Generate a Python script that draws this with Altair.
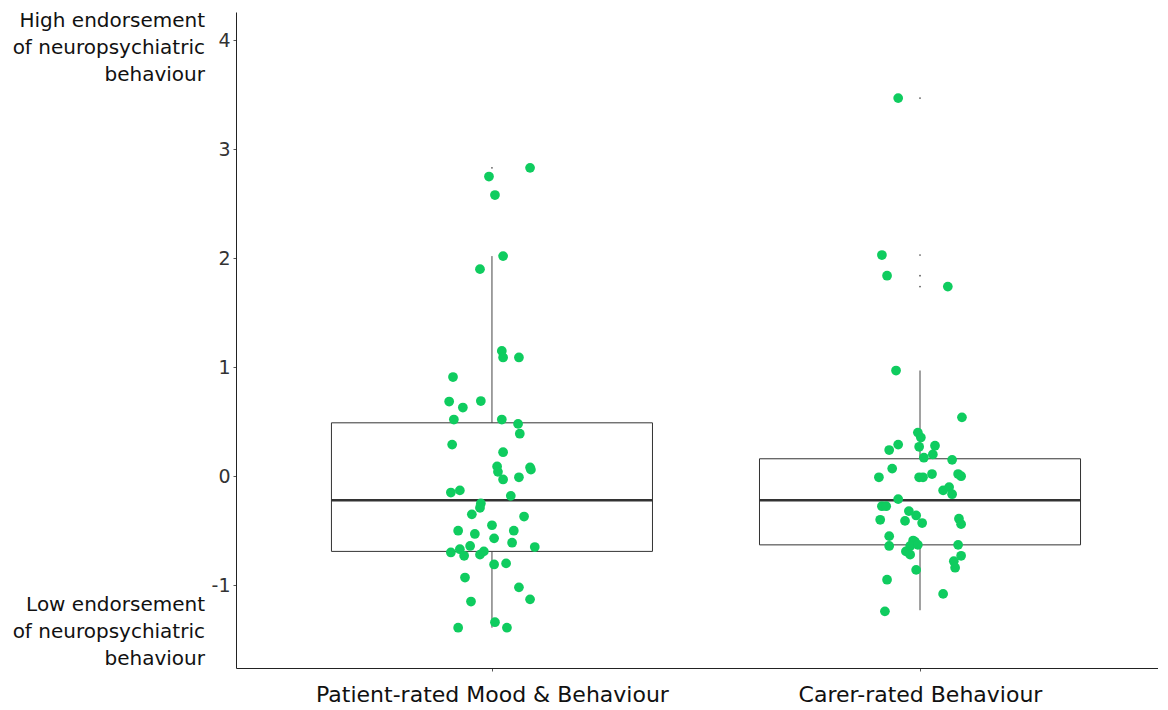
import altair as alt
import pandas as pd

# ---- data ----
groups = ["Patient-rated Mood & Behaviour", "Carer-rated Behaviour"]
group_pos = [1, 2]

patient_values = [2.83, 2.75, 2.58, 2.02, 1.90, 1.15, 1.09, 1.09, 0.91, 0.685, 0.69, 0.63,
                  0.52, 0.52, 0.48, 0.39, 0.29, 0.22, 0.09, 0.04, -0.03, -0.01, 0.08, 0.06,
                  -0.13, -0.15, -0.18, -0.25, -0.29, -0.35, -0.37, -0.45, -0.50, -0.53, -0.50,
                  -0.57, -0.61, -0.65, -0.70, -0.67, -0.73, -0.64, -0.72, -0.69, -0.81, -0.80,
                  -0.93, -1.02, -1.13, -1.15, -1.34, -1.39, -1.39]
patient_jitter = [0.089, -0.007, 0.007, 0.026, -0.028, 0.023, 0.026, 0.063, -0.091, -0.100, -0.026, -0.068,
                  -0.089, 0.023, 0.061, 0.065, -0.093, 0.026, 0.012, 0.014, 0.026, 0.063, 0.089, 0.091,
                  -0.075, -0.096, 0.044, -0.026, -0.028, -0.047, 0.075, 0.0, -0.079, -0.040, 0.051,
                  0.005, 0.047, 0.100, -0.096, -0.075, -0.065, -0.051, -0.028, -0.019, 0.005, 0.033,
                  -0.063, 0.063, 0.089, -0.049, 0.007, -0.079, 0.035]

carer_values = [3.47, 2.03, 1.84, 1.74, 0.97, 0.54, 0.40, 0.355, 0.29, 0.24, 0.27, 0.28,
                0.20, 0.17, 0.15, 0.07, -0.01, -0.01, -0.01, 0.02, 0.02, 0.00, -0.13, -0.10,
                -0.165, -0.21, -0.275, -0.275, -0.32, -0.36, -0.40, -0.41, -0.43, -0.39, -0.44,
                -0.55, -0.64, -0.59, -0.60, -0.64, -0.63, -0.69, -0.72, -0.63, -0.73, -0.78,
                -0.84, -0.86, -0.95, -1.08, -1.24]
carer_jitter = [-0.051, -0.089, -0.077, 0.065, -0.056, 0.098, -0.005, 0.002, -0.051, -0.072, -0.002, 0.035,
                0.030, 0.009, 0.075, -0.065, -0.096, -0.002, 0.007, 0.028, 0.089, 0.096, 0.054, 0.068,
                0.075, -0.051, -0.089, -0.079, -0.026, -0.009, -0.093, -0.035, 0.005, 0.091, 0.096,
                -0.072, -0.072, -0.016, -0.012, -0.023, -0.005, -0.033, -0.023, 0.089, 0.096, 0.079,
                0.082, -0.009, -0.077, 0.054, -0.082]

# box-plot summary
q1 = [-0.69, -0.63]
median = [-0.22, -0.22]
q3 = [0.49, 0.16]
whisker_lo = [-1.39, -1.23]
whisker_hi = [2.02, 0.97]
patient_outliers = [2.58, 2.75, 2.83]
carer_outliers = [1.74, 1.84, 2.03, 3.47]

box_half_width = 0.375

# ---- tables ----
pts = pd.DataFrame({
    "x": [group_pos[0] + j for j in patient_jitter] + [group_pos[1] + j for j in carer_jitter],
    "value": patient_values + carer_values,
    "group": [groups[0]] * len(patient_values) + [groups[1]] * len(carer_values),
})
box = pd.DataFrame({
    "pos": group_pos,
    "left": [p - box_half_width for p in group_pos],
    "right": [p + box_half_width for p in group_pos],
    "q1": q1, "median": median, "q3": q3, "lo": whisker_lo, "hi": whisker_hi,
})
outl = pd.DataFrame({
    "pos": [group_pos[0]] * len(patient_outliers) + [group_pos[1]] * len(carer_outliers),
    "value": patient_outliers + carer_outliers,
})

FONT = "DejaVu Sans"
xscale = alt.Scale(domain=[0.402, 2.556], nice=False, zero=False)
yscale = alt.Scale(domain=[-1.76, 4.26], nice=False, zero=False)

label_expr = "datum.value == 1 ? '%s' : (datum.value == 2 ? '%s' : '')" % (groups[0], groups[1])

xax = alt.Axis(values=group_pos, labelExpr=label_expr, title=None, grid=False,
               labelFontSize=22, labelColor="#111111", labelFont=FONT,
               labelBaseline="alphabetic", labelPadding=30,
               labelLimit=0, tickSize=3, tickColor="#555555", domainColor="#222222",
               labelFlush=False)
yax = alt.Axis(values=[-1, 0, 1, 2, 3, 4], title=None, grid=False,
               labelExpr="'' + datum.value",
               labelFontSize=19, labelColor="#333333", labelFont=FONT, labelPadding=3,
               tickSize=3, tickColor="#555555", domainColor="#222222")

boxes = alt.Chart(box).mark_rect(fill="white", stroke="#333333", strokeWidth=1).encode(
    x=alt.X("left:Q", scale=xscale, axis=xax),
    x2="right:Q",
    y=alt.Y("q1:Q", scale=yscale, axis=yax),
    y2="q3:Q",
)
whisk_up = alt.Chart(box).mark_rule(color="#444444", strokeWidth=1).encode(
    x=alt.X("pos:Q", scale=xscale), y=alt.Y("q3:Q", scale=yscale), y2="hi:Q")
whisk_dn = alt.Chart(box).mark_rule(color="#444444", strokeWidth=1).encode(
    x=alt.X("pos:Q", scale=xscale), y=alt.Y("lo:Q", scale=yscale), y2="q1:Q")
med = alt.Chart(box).mark_rule(color="#333333", strokeWidth=2.5).encode(
    x=alt.X("left:Q", scale=xscale), x2="right:Q", y=alt.Y("median:Q", scale=yscale))
outs = alt.Chart(outl).mark_circle(color="#555555", size=3, opacity=1).encode(
    x=alt.X("pos:Q", scale=xscale), y=alt.Y("value:Q", scale=yscale))
points = alt.Chart(pts).mark_circle(color="#0FCC5F", size=95, opacity=1).encode(
    x=alt.X("x:Q", scale=xscale), y=alt.Y("value:Q", scale=yscale),
    tooltip=["group:N", "value:Q"])

ann = pd.DataFrame({"t": ["High endorsement\nof neuropsychiatric\nbehaviour",
                          "Low endorsement\nof neuropsychiatric\nbehaviour"],
                    "ypix": [-1, 583]})
annot = alt.Chart(ann).mark_text(align="right", baseline="top", lineBreak="\n", lineHeight=27,
                                 fontSize=20, font=FONT, color="#111111").encode(
    text="t:N", x=alt.value(-31), y=alt.Y("ypix:Q", scale=None, axis=None))

chart = alt.layer(boxes, whisk_up, whisk_dn, med, outs, points, annot).properties(
    width=922, height=656,
    background="white",
    autosize=alt.AutoSizeParams(type="none"),
    padding={"left": 228, "top": 4, "right": 0, "bottom": 34},
).configure_view(stroke=None, strokeWidth=0).configure_axis(grid=False)

chart.save("out.html", embed_options={"renderer": "svg", "actions": False})
